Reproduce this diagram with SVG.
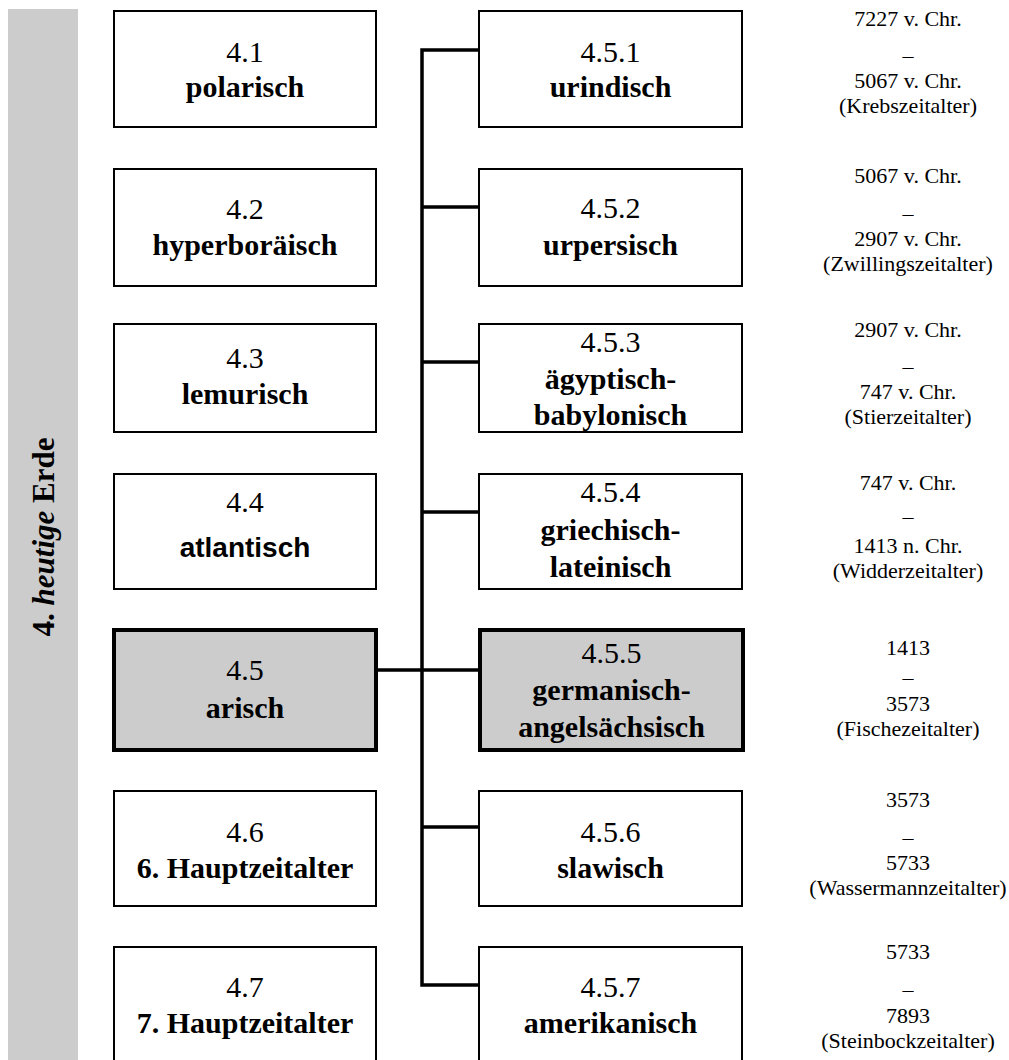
<svg xmlns="http://www.w3.org/2000/svg" width="1009" height="1060" viewBox="0 0 1009 1060">
<style>
.box{fill:#fff;stroke:#000;stroke-width:2}
.hi{fill:#cccccc;stroke:#000;stroke-width:4}
.num{font-family:"Liberation Serif","Times New Roman",serif;font-size:30px;text-anchor:middle;fill:#000}
.nm{font-family:"Liberation Serif","Times New Roman",serif;font-size:30px;font-weight:bold;text-anchor:middle;fill:#000}
.nms{font-family:"Liberation Sans",Arial,sans-serif;font-size:28px;font-weight:bold;text-anchor:middle;fill:#000}
.dt{font-family:"Liberation Serif","Times New Roman",serif;font-size:22px;text-anchor:middle;fill:#000}
.side{font-family:"Liberation Serif","Times New Roman",serif;font-size:31px;font-weight:bold;text-anchor:middle;fill:#000}
.con{fill:none;stroke:#000;stroke-width:3.5;stroke-linejoin:miter;stroke-linecap:butt}
</style>
<rect x="8" y="9" width="70" height="1060" fill="#cccccc"/>
<text class="side" transform="translate(54,537) rotate(-90)">4. <tspan font-style="italic">heutige</tspan> Erde</text>

<g id="connectors">
<path class="con" d="M478,50 H422 V985 H478"/>
<path class="con" d="M422,207 H478 M422,362 H478 M422,512 H478 M378,670 H478 M422,827 H478"/>
</g>

<g id="n4-1"><rect class="box" x="114" y="11" width="262" height="116"/><text class="num" x="245" y="62">4.1</text><text class="nm" x="245" y="97">polarisch</text></g>
<g id="n4-2"><rect class="box" x="114" y="169" width="262" height="117"/><text class="num" x="245" y="219">4.2</text><text class="nm" x="245" y="255">hyperboräisch</text></g>
<g id="n4-3"><rect class="box" x="114" y="324" width="262" height="108"/><text class="num" x="245" y="368">4.3</text><text class="nm" x="245" y="404">lemurisch</text></g>
<g id="n4-4"><rect class="box" x="114" y="474" width="262" height="115"/><text class="num" x="245" y="512">4.4</text><text class="nms" x="245" y="557">atlantisch</text></g>
<g id="n4-5"><rect class="hi" x="114" y="630" width="262" height="120"/><text class="num" x="245" y="680">4.5</text><text class="nm" x="245" y="718">arisch</text></g>
<g id="n4-6"><rect class="box" x="114" y="791" width="262" height="115"/><text class="num" x="245" y="842">4.6</text><text class="nm" x="245" y="878">6. Hauptzeitalter</text></g>
<g id="n4-7"><rect class="box" x="114" y="947" width="262" height="120"/><text class="num" x="245" y="997">4.7</text><text class="nm" x="245" y="1033">7. Hauptzeitalter</text></g>

<g id="n4-5-1"><rect class="box" x="479" y="11" width="263" height="116"/><text class="num" x="610.5" y="62">4.5.1</text><text class="nm" x="610.5" y="97">urindisch</text></g>
<g id="n4-5-2"><rect class="box" x="479" y="169" width="263" height="117"/><text class="num" x="610.5" y="218">4.5.2</text><text class="nm" x="610.5" y="255">urpersisch</text></g>
<g id="n4-5-3"><rect class="box" x="479" y="324" width="263" height="108"/><text class="num" x="610.5" y="352">4.5.3</text><text class="nm" x="610.5" y="389">ägyptisch-</text><text class="nm" x="610.5" y="425">babylonisch</text></g>
<g id="n4-5-4"><rect class="box" x="479" y="474" width="263" height="115"/><text class="num" x="610.5" y="502">4.5.4</text><text class="nm" x="610.5" y="540">griechisch-</text><text class="nm" x="610.5" y="577">lateinisch</text></g>
<g id="n4-5-5"><rect class="hi" x="480" y="630" width="263" height="120"/><text class="num" x="611.5" y="663">4.5.5</text><text class="nm" x="611.5" y="700">germanisch-</text><text class="nm" x="611.5" y="737">angelsächsisch</text></g>
<g id="n4-5-6"><rect class="box" x="479" y="791" width="263" height="115"/><text class="num" x="610.5" y="842">4.5.6</text><text class="nm" x="610.5" y="878">slawisch</text></g>
<g id="n4-5-7"><rect class="box" x="479" y="947" width="263" height="120"/><text class="num" x="610.5" y="997">4.5.7</text><text class="nm" x="610.5" y="1033">amerikanisch</text></g>

<g id="dates">
<text class="dt" x="908" y="26">7227 v. Chr.</text><text class="dt" x="908" y="63">–</text><text class="dt" x="908" y="88">5067 v. Chr.</text><text class="dt" x="908" y="113">(Krebszeitalter)</text>
<text class="dt" x="908" y="183">5067 v. Chr.</text><text class="dt" x="908" y="221">–</text><text class="dt" x="908" y="246">2907 v. Chr.</text><text class="dt" x="908" y="271">(Zwillingszeitalter)</text>
<text class="dt" x="908" y="337">2907 v. Chr.</text><text class="dt" x="908" y="374">–</text><text class="dt" x="908" y="399">747 v. Chr.</text><text class="dt" x="908" y="424">(Stierzeitalter)</text>
<text class="dt" x="908" y="490">747 v. Chr.</text><text class="dt" x="908" y="524">–</text><text class="dt" x="908" y="553">1413 n. Chr.</text><text class="dt" x="908" y="578">(Widderzeitalter)</text>
<text class="dt" x="908" y="655">1413</text><text class="dt" x="908" y="685">–</text><text class="dt" x="908" y="711">3573</text><text class="dt" x="908" y="736">(Fischezeitalter)</text>
<text class="dt" x="908" y="807">3573</text><text class="dt" x="908" y="845">–</text><text class="dt" x="908" y="870">5733</text><text class="dt" x="908" y="895">(Wassermannzeitalter)</text>
<text class="dt" x="908" y="959">5733</text><text class="dt" x="908" y="997">–</text><text class="dt" x="908" y="1023">7893</text><text class="dt" x="908" y="1048">(Steinbockzeitalter)</text>
</g>
</svg>
